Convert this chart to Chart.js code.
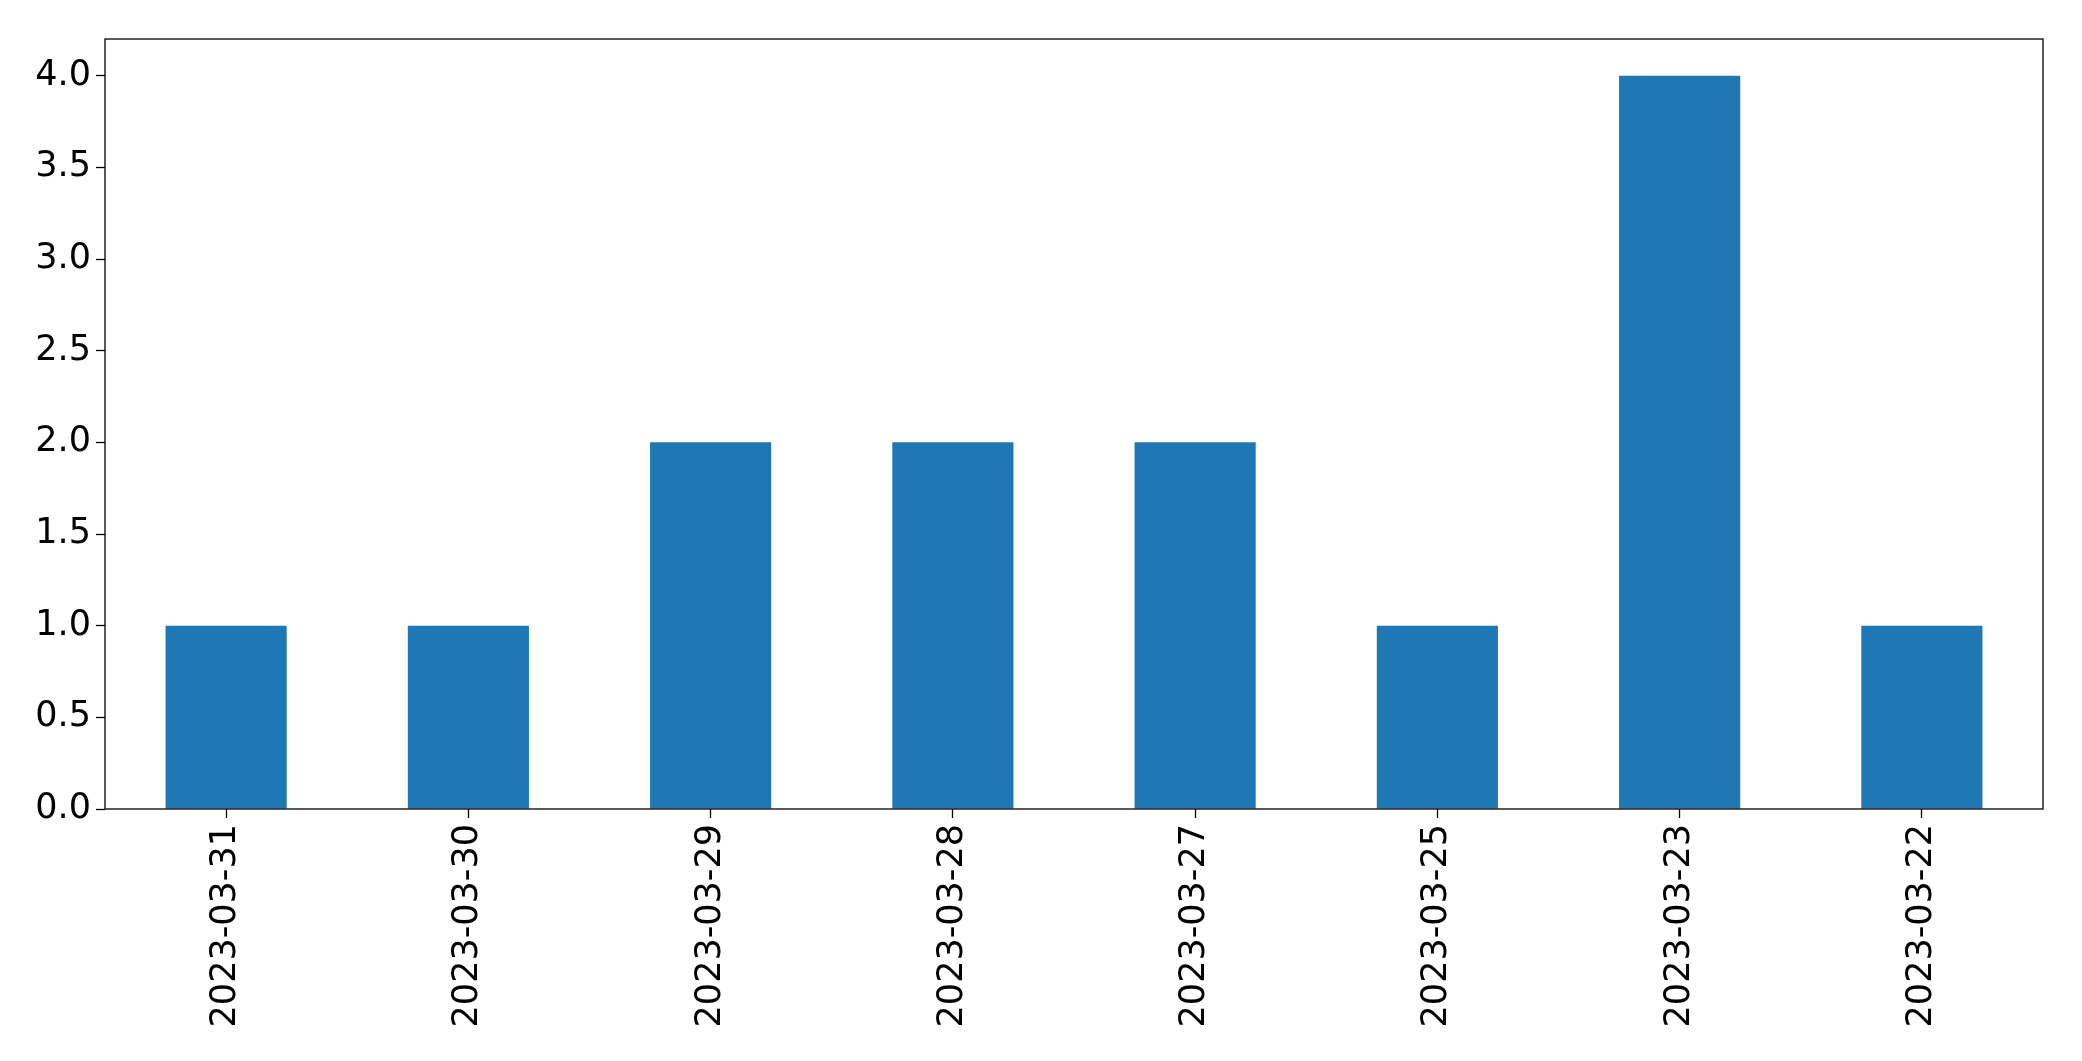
<!DOCTYPE html>
<html>
<head>
<meta charset="utf-8">
<script src="https://cdn.jsdelivr.net/npm/chart.js@4/dist/chart.umd.min.js"></script>
<style>
  body { margin: 0; background: #fff; }
  canvas { display: block; }
</style>
</head>
<body>
<canvas id="chart" width="2082" height="1061"></canvas>
<script>
// data
const dates = ['2023-03-31', '2023-03-30', '2023-03-29', '2023-03-28', '2023-03-27', '2023-03-25', '2023-03-23', '2023-03-22'];
const counts = [1, 1, 2, 2, 2, 1, 4, 1];
const yTicks = [0, 0.5, 1, 1.5, 2, 2.5, 3, 3.5, 4];

const fontSpec = { family: 'DejaVu Sans', size: 35 };

// draws the full frame round the plot area, like matplotlib does
const frame = {
    id: 'frame',
    afterDraw(chart) {
        const a = chart.chartArea;
        const ctx = chart.ctx;
        ctx.save();
        ctx.strokeStyle = '#000';
        ctx.lineWidth = 1.3;
        ctx.strokeRect(a.left, a.top, a.right - a.left, a.bottom - a.top);
        ctx.restore();
    }
};

new Chart(document.getElementById('chart'), {
    type: 'bar',
    data: {
        labels: dates,
        datasets: [{
            data: counts,
            backgroundColor: '#1f77b4',
            borderWidth: 0,
            categoryPercentage: 1,
            barPercentage: 0.5
        }]
    },
    options: {
        responsive: false,
        animation: false,
        layout: { padding: { top: 39, right: 39, left: 0, bottom: 0 } },
        plugins: { legend: { display: false }, tooltip: { enabled: false } },
        scales: {
            x: {
                offset: true,
                grid: { offset: false, drawOnChartArea: false, color: '#000', tickLength: 9, tickWidth: 1.3 },
                border: { display: false },
                ticks: { color: '#000', font: fontSpec, minRotation: 90, maxRotation: 90, padding: 6 },
                afterFit(scale) { scale.height = 252; }
            },
            y: {
                min: 0,
                max: 4.2,
                grid: { drawOnChartArea: false, color: '#000', tickLength: 9, tickWidth: 1.3 },
                border: { display: false },
                ticks: {
                    color: '#000',
                    font: fontSpec,
                    stepSize: 0.5,
                    includeBounds: false,
                    padding: 5,
                    callback: v => yTicks.includes(v) ? v.toFixed(1) : ''
                },
                afterFit(scale) { scale.width = 105; }
            }
        }
    },
    plugins: [frame]
});
</script>
</body>
</html>
